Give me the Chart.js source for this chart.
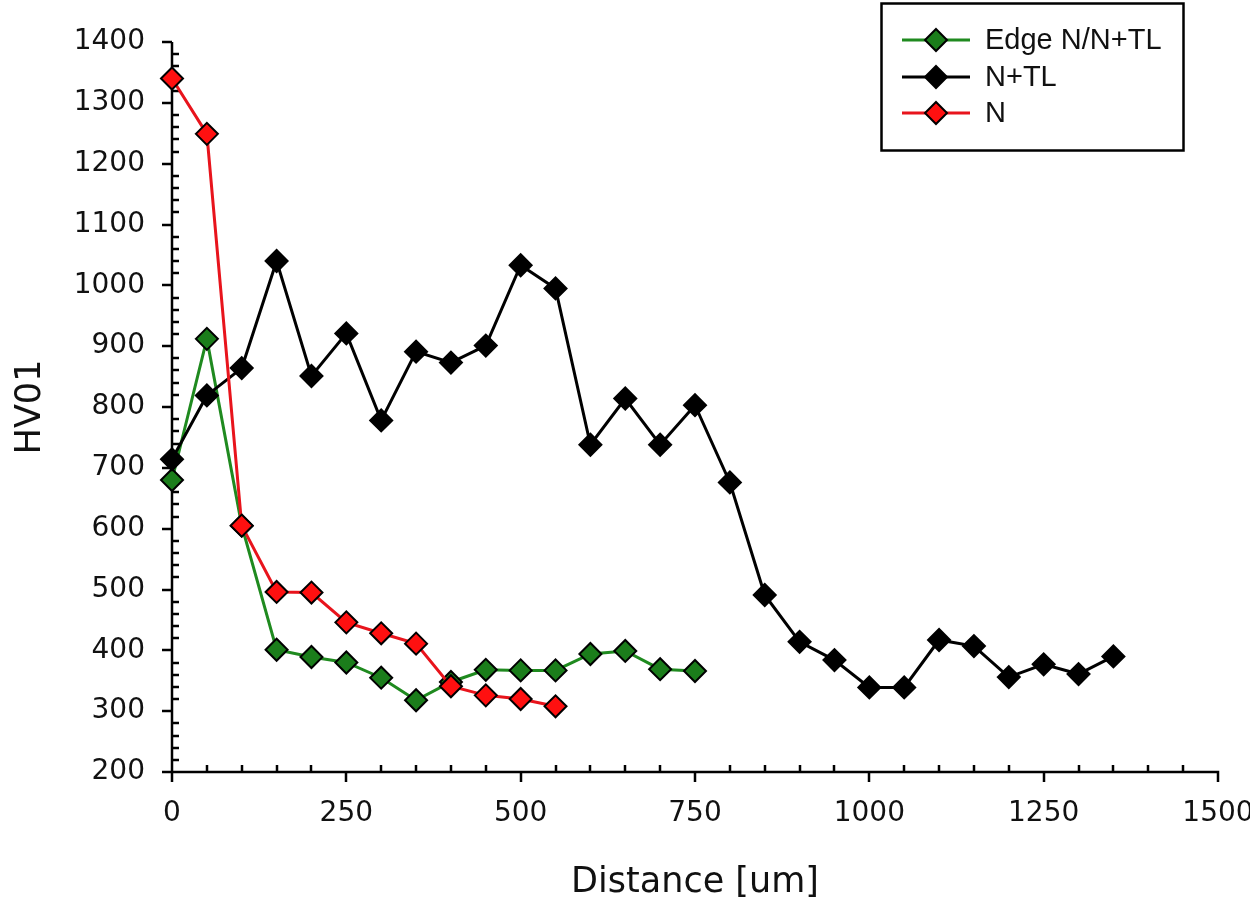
<!DOCTYPE html>
<html>
<head>
<meta charset="utf-8">
<script src="https://cdn.jsdelivr.net/npm/chart.js@4.4.1/dist/chart.umd.min.js"></script>
<style>
  html, body { margin: 0; padding: 0; background: #ffffff; }
  #wrap { width: 1250px; height: 907px; position: relative; }
</style>
</head>
<body>
<div id="wrap"><canvas id="c" width="1250" height="907"></canvas></div>
<script>
// ---- data ----
const distances = [0, 50, 100, 150, 200, 250, 300, 350, 400, 450, 500, 550, 600, 650,
                   700, 750, 800, 850, 900, 950, 1000, 1050, 1100, 1150, 1200, 1250, 1300, 1350];
const seriesLabels = ['Edge N/N+TL', 'N+TL', 'N'];
const edgeValues = [680, 912, 605, 401, 389, 380, 355, 318, 348, 368, 367, 367, 394, 399, 369, 366];
const ntlValues  = [714, 819, 864, 1040, 851, 921, 778, 891, 873, 901, 1033, 995, 738, 814,
                    738, 803, 676, 491, 414, 384, 339, 339, 417, 407, 356, 377, 361, 390];
const nValues    = [1340, 1249, 605, 496, 495, 446, 428, 411, 341, 326, 320, 308];
const xTicks = [0, 250, 500, 750, 1000, 1250, 1500];
const yTicks = [200, 300, 400, 500, 600, 700, 800, 900, 1000, 1100, 1200, 1300, 1400];

const toPoints = vals => vals.map((v, i) => ({ x: distances[i], y: v }));

const axesPlugin = {
  id: 'axesPlugin',
  beforeDatasetsDraw(chart) {
    const ctx = chart.ctx;
    const xs = chart.scales.x, ys = chart.scales.y;
    const L = xs.left, R = xs.right, T = ys.top, B = ys.bottom;
    ctx.save();
    ctx.strokeStyle = '#000';
    ctx.lineWidth = 2.5;
    ctx.lineCap = 'butt';
    ctx.beginPath();
    ctx.moveTo(L, T); ctx.lineTo(L, B + 1.25);
    ctx.moveTo(L - 1.25, B); ctx.lineTo(R + 1.25, B);
    for (let v = ys.min; v <= ys.max + 0.001; v += 20) {
      const p = Math.round(ys.getPixelForValue(v));
      if (v % 100 === 0) { ctx.moveTo(L - 10, p); ctx.lineTo(L, p); }
      else { ctx.moveTo(L, p); ctx.lineTo(L + 7, p); }
    }
    for (let v = xs.min; v <= xs.max + 0.001; v += 50) {
      const p = Math.round(xs.getPixelForValue(v));
      if (v % 250 === 0) { ctx.moveTo(p, B); ctx.lineTo(p, B + 10); }
      else { ctx.moveTo(p, B); ctx.lineTo(p, B - 7); }
    }
    ctx.stroke();
    ctx.restore();
  },
  afterDraw(chart) {
    const ctx = chart.ctx;
    ctx.save();
    const bx = 881.5, by = 3.5, bw = 302, bh = 147;
    ctx.fillStyle = '#fff';
    ctx.fillRect(bx, by, bw, bh);
    ctx.strokeStyle = '#000';
    ctx.lineWidth = 2.5;
    ctx.strokeRect(bx, by, bw, bh);
    const rows = [40, 77, 113];
    chart.data.datasets.forEach((ds, i) => {
      const y = rows[i];
      ctx.strokeStyle = ds.borderColor;
      ctx.lineWidth = 3;
      ctx.beginPath();
      ctx.moveTo(902, y); ctx.lineTo(970, y);
      ctx.stroke();
      const r = 11, cx = 936;
      ctx.beginPath();
      ctx.moveTo(cx, y - r); ctx.lineTo(cx + r, y); ctx.lineTo(cx, y + r); ctx.lineTo(cx - r, y);
      ctx.closePath();
      ctx.fillStyle = ds.pointBackgroundColor;
      ctx.fill();
      ctx.lineWidth = 2;
      ctx.strokeStyle = '#000';
      ctx.stroke();
      ctx.fillStyle = '#111';
      ctx.font = '29px "Liberation Sans", Arial, sans-serif';
      ctx.textBaseline = 'middle';
      ctx.textAlign = 'left';
      ctx.fillText(ds.label, 985, y + 1);
    });
    ctx.restore();
  }
};

const common = {
  showLine: true,
  borderWidth: 3,
  pointStyle: 'rectRot',
  pointRadius: 11,
  pointHoverRadius: 11,
  pointBorderColor: '#000',
  pointBorderWidth: 2,
  tension: 0,
  clip: false
};

const tickFont = { family: '"DejaVu Sans", Verdana, sans-serif', size: 28 };
const titleFont = { family: '"DejaVu Sans", Verdana, sans-serif', size: 35 };

new Chart(document.getElementById('c'), {
  type: 'scatter',
  data: {
    datasets: [
      Object.assign({}, common, { label: seriesLabels[0], data: toPoints(edgeValues),
        borderColor: '#1f8a1f', pointBackgroundColor: '#1b7d1b', order: 2 }),
      Object.assign({}, common, { label: seriesLabels[1], data: toPoints(ntlValues),
        borderColor: '#000000', pointBackgroundColor: '#000000', order: 1 }),
      Object.assign({}, common, { label: seriesLabels[2], data: toPoints(nValues),
        borderColor: '#e8141c', pointBackgroundColor: '#ff1010', order: 0 })
    ]
  },
  options: {
    responsive: false,
    animation: false,
    events: [],
    layout: { padding: { left: 0, top: 42, right: 32, bottom: 0 } },
    plugins: { legend: { display: false }, tooltip: { enabled: false } },
    scales: {
      x: {
        type: 'linear', min: 0, max: 1500,
        afterBuildTicks: s => { s.ticks = xTicks.map(v => ({ value: v })); },
        afterFit: s => { s.height = 135; s.paddingLeft = 0; s.paddingRight = 0; },
        grid: { display: false, drawTicks: false },
        border: { display: false },
        ticks: { color: '#111', padding: 25, maxRotation: 0, autoSkip: false,
                 callback: v => String(v), font: tickFont },
        title: { display: true, text: 'Distance [um]', color: '#111',
                 padding: { top: 0, bottom: 3 }, font: titleFont }
      },
      y: {
        type: 'linear', min: 200, max: 1400,
        afterBuildTicks: s => { s.ticks = yTicks.map(v => ({ value: v })); },
        afterFit: s => { s.width = 172; s.paddingTop = 0; s.paddingBottom = 0; },
        grid: { display: false, drawTicks: false },
        border: { display: false },
        ticks: { color: '#111', padding: 27, autoSkip: false,
                 callback: v => String(v), font: tickFont },
        title: { display: true, text: 'HV01', color: '#111',
                 padding: { top: 10, bottom: 0 }, font: titleFont }
      }
    }
  },
  plugins: [axesPlugin]
});
</script>
</body>
</html>
